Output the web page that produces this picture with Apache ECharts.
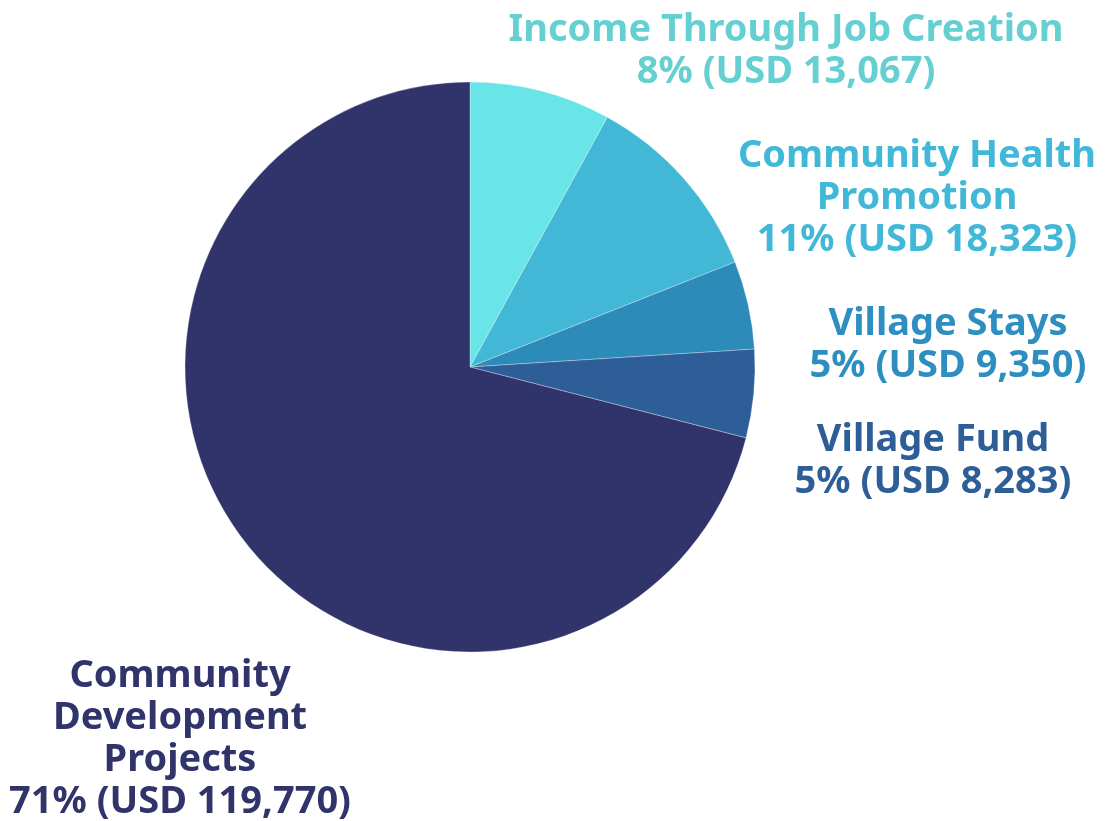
<!DOCTYPE html>
<html>
<head>
<meta charset="utf-8">
<script src="https://cdn.jsdelivr.net/npm/echarts@6/dist/echarts.min.js"></script>
<style>html,body{margin:0;padding:0;background:#fff;}#c{width:1109px;height:821px;}</style>
</head>
<body>
<div id="c"></div>
<script>
const categories = ['Income Through Job Creation', 'Community Health Promotion', 'Village Stays', 'Village Fund', 'Community Development Projects'];
const labelNames = ['Income Through Job Creation', 'Community Health\nPromotion', 'Village Stays', 'Village Fund', 'Community\nDevelopment\nProjects'];
const percentValues = [8, 11, 5, 5, 71];
const usdLabels = ['13,067', '18,323', '9,350', '8,283', '119,770'];
const sliceColors = ['#69E5E8', '#42B7D6', '#2D8BBA', '#2E5E98', '#31346B'];
const textColors = ['#66CFD2', '#42B8D8', '#2E8EBF', '#2D5E98', '#31346B'];

const labelPos = [[786, 51], [917, 198], [948, 345], [933, 461], [180, 739]];

const chart = echarts.init(document.getElementById('c'), null, {renderer: 'canvas'});
chart.setOption({
  animation: false,
  series: [{
    type: 'pie',
    center: [470, 367],
    radius: [0, 285],
    startAngle: 90,
    clockwise: true,
    silent: true,
    itemStyle: {borderWidth: 0.6, borderColor: 'rgba(255,255,255,0.5)'},
    label: {
      show: true,
      position: 'outside',
      fontFamily: 'Noto Sans',
      fontWeight: 'bold',
      fontSize: 38,
      lineHeight: 42,
      align: 'center',
      overflow: 'none',
      formatter: p => labelNames[p.dataIndex] + '\n' + percentValues[p.dataIndex] + '% (USD ' + usdLabels[p.dataIndex] + ')'
    },
    labelLine: {show: false},
    labelLayout: p => ({x: labelPos[p.dataIndex][0], y: labelPos[p.dataIndex][1], align: 'center', verticalAlign: 'middle', width: 600}),
    data: categories.map((c, i) => ({
      name: c,
      value: percentValues[i],
      itemStyle: {color: sliceColors[i]},
      label: {color: textColors[i]}
    }))
  }]
});
</script>
</body>
</html>
